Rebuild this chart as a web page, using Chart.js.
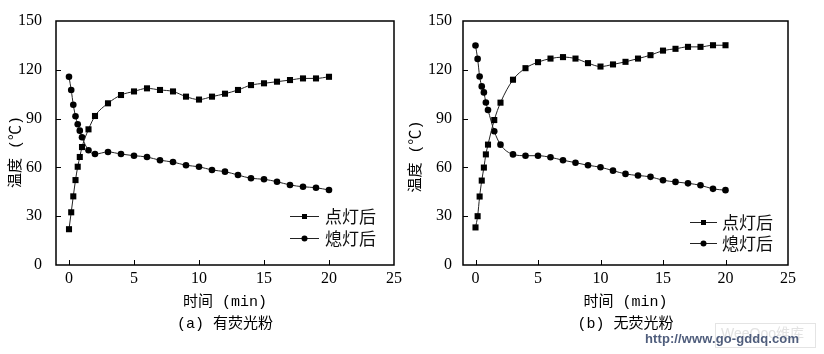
<!DOCTYPE html>
<html><head><meta charset="utf-8">
<script src="https://cdn.jsdelivr.net/npm/chart.js@4/dist/chart.umd.min.js"></script>
<style>
html,body{margin:0;padding:0;background:#fff;}
#wrap{position:relative;width:824px;height:354px;overflow:hidden;background:#fff;}
#cA{position:absolute;left:0;top:0;}
#cB{position:absolute;left:405px;top:0;}
#wmbox{position:absolute;left:715px;top:323px;width:101px;height:25px;border:1px solid #e4e4e4;box-sizing:border-box;
  color:#e2e2e2;font:14px 'Liberation Sans','Noto Sans CJK SC';line-height:18px;padding-left:5px;}
#wmurl{position:absolute;left:645px;top:331px;color:#4f5d7c;font:bold 13px 'Liberation Sans',Arial;letter-spacing:0.1px;}
</style></head><body>
<div id="wrap">
<canvas id="cA" width="405" height="354"></canvas>
<canvas id="cB" width="419" height="354"></canvas>
<div id="wmbox">WeeQoo维库</div>
<div id="wmurl">http://www.go-gddq.com</div>
</div>
<script>
// ---- data ----
const timeMin = [0, 0.17, 0.33, 0.5, 0.67, 0.83, 1, 1.5, 2, 3, 4, 5, 6, 7, 8, 9, 10, 11, 12, 13, 14, 15, 16, 17, 18, 19, 20];
const seriesNames = ['点灯后', '熄灯后'];
// (a) 有荧光粉
const onWithPhosphor  = [22, 32.4, 42.2, 52.2, 60.4, 66.4, 72.5, 83.4, 91.6, 99.4, 104.5, 106.7, 108.6, 107.6, 106.7, 103.5, 101.7, 103.5, 105.3, 107.6, 110.6, 111.7, 112.7, 113.7, 114.7, 114.7, 115.7];
const offWithPhosphor = [115.7, 107.6, 98.5, 91.4, 86.5, 82.6, 78.5, 70.5, 68.2, 69.5, 68.2, 67.2, 66.4, 64.4, 63.3, 61.3, 60.4, 58.4, 57.4, 55.3, 53.3, 52.7, 51.2, 49.2, 48.1, 47.5, 46.1];
// (b) 无荧光粉
const onNoPhosphor    = [23.1, 30, 42.1, 51.9, 59.9, 68, 74, 89.1, 99.8, 113.9, 121, 124.7, 126.9, 127.8, 126.9, 124.1, 122, 123.3, 124.9, 126.9, 129, 131.8, 132.9, 134.1, 134.1, 135.1, 135.1];
const offNoPhosphor   = [134.9, 126.7, 115.9, 109.8, 106.1, 99.9, 95.3, 82.2, 74, 68, 67.2, 67.2, 66.2, 64.4, 62.9, 61.3, 60.1, 58, 56, 55, 54.2, 52.1, 51.1, 50.2, 49, 46.8, 46];
const xTickValues = [0, 5, 10, 15, 20, 25];
const yTickValues = [0, 30, 60, 90, 120, 150];
const captions = ['(a) 有荧光粉', '(b) 无荧光粉'];
const xTitle = '时间 (min)';
const yTitle = '温度 (℃)';

// ---- plugins ----
const framePlugin = {
  id: 'frame',
  afterDraw(chart) {
    const {ctx, chartArea: a, scales: {x, y}} = chart;
    ctx.save();
    ctx.strokeStyle = '#000';
    ctx.lineWidth = 1.5;
    ctx.strokeRect(a.left, a.top, a.right - a.left, a.bottom - a.top);
    ctx.lineWidth = 1;
    ctx.beginPath();
    x.ticks.forEach(t => {
      const px = Math.round(x.getPixelForValue(t.value)) + 0.5;
      if (px < a.right - 3) { ctx.moveTo(px, a.bottom); ctx.lineTo(px, a.bottom - 5); }
    });
    y.ticks.forEach(t => {
      const py = Math.round(y.getPixelForValue(t.value)) + 0.5;
      if (py > a.top + 3 && py < a.bottom - 3) { ctx.moveTo(a.left, py); ctx.lineTo(a.left + 5, py); }
    });
    ctx.stroke();
    ctx.restore();
  }
};

const lineLegend = {
  id: 'lineLegend',
  afterDraw(chart, args, o) {
    const ctx = chart.ctx;
    ctx.save();
    chart.data.datasets.forEach((ds, i) => {
      const yy = o.rows[i];
      ctx.strokeStyle = ds.borderColor;
      ctx.lineWidth = 1;
      ctx.beginPath();
      ctx.moveTo(o.x1, yy + 0.5); ctx.lineTo(o.x2, yy + 0.5);
      ctx.stroke();
      const cx = (o.x1 + o.x2) / 2;
      ctx.fillStyle = '#000';
      if (ds.pointStyle === 'rect') {
        ctx.fillRect(cx - 2.5, yy - 2, 5, 5);
      } else {
        ctx.beginPath(); ctx.arc(cx, yy + 0.5, 3, 0, Math.PI * 2); ctx.fill();
      }
      ctx.fillStyle = '#111';
      ctx.font = o.font;
      ctx.textBaseline = 'middle';
      ctx.textAlign = 'left';
      ctx.fillText(ds.label, o.xText, yy + 1);
    });
    ctx.restore();
  }
};

const cjkMono = "'Liberation Mono', 'Noto Sans CJK SC', monospace";

function makeChart(canvas, onData, offData, caption, cfg) {
  const mk = (label, vals, style, r) => ({
    label,
    data: timeMin.map((t, i) => ({x: t, y: vals[i]})),
    pointStyle: style,
    pointRadius: r,
    pointBackgroundColor: '#000',
    pointBorderColor: '#000',
    pointBorderWidth: 0,
    borderColor: '#222',
    borderWidth: 1,
    cubicInterpolationMode: 'monotone',
    fill: false
  });
  return new Chart(canvas, {
    type: 'line',
    data: {
      datasets: [
        mk(seriesNames[0], onData, 'rect', 4.3),
        mk(seriesNames[1], offData, 'circle', 3.3)
      ]
    },
    options: {
      responsive: false,
      animation: false,
      devicePixelRatio: 1,
      layout: {padding: {left: 0, right: cfg.padRight, top: 21, bottom: 21}},
      plugins: {
        legend: {display: false},
        tooltip: {enabled: false},
        title: {
          display: true, position: 'bottom', text: caption, fullSize: false,
          padding: 0, color: '#000',
          font: {family: cjkMono, size: 15, weight: 'normal', lineHeight: 1.2}
        },
        lineLegend: cfg.legend
      },
      scales: {
        x: {
          type: 'linear', min: -1, max: 25,
          afterBuildTicks: s => { s.ticks = xTickValues.map(v => ({value: v})); },
          afterFit: s => { s.height = 50; },
          grid: {display: false}, border: {display: false},
          ticks: {padding: -4, color: '#000', maxRotation: 0, font: {family: "'Liberation Serif'", size: 16}},
          title: {display: true, text: xTitle, color: '#000', padding: {top: 0, bottom: 4},
                  font: {family: cjkMono, size: 15, lineHeight: 1.2}}
        },
        y: {
          type: 'linear', min: 0, max: 150,
          afterBuildTicks: s => { s.ticks = yTickValues.map(v => ({value: v})); },
          afterFit: s => { s.width = cfg.yWidth; },
          grid: {display: false}, border: {display: false},
          ticks: {padding: cfg.yTickPad, color: '#000', font: {family: "'Liberation Serif'", size: 16}},
          title: {display: true, text: yTitle + cfg.yTitleTail, color: '#000', padding: {top: cfg.yTitlePad, bottom: 0},
                  font: {family: cjkMono, size: 15, lineHeight: 1.2}}
        }
      }
    },
    plugins: [framePlugin, lineLegend]
  });
}

makeChart(document.getElementById('cA'), onWithPhosphor, offWithPhosphor, captions[0], {
  padRight: 11, yWidth: 56, yTickPad: 6, yTitlePad: 7, yTitleTail: '  ',
  legend: {x1: 290, x2: 319, xText: 325, rows: [216, 238], font: "17px 'Noto Sans CJK SC'"}
});
makeChart(document.getElementById('cB'), onNoPhosphor, offNoPhosphor, captions[1], {
  padRight: 36, yWidth: 58, yTickPad: 3, yTitlePad: 2, yTitleTail: '   ',
  legend: {x1: 285, x2: 312, xText: 317, rows: [222, 243], font: "17px 'Noto Sans CJK SC'"}
});
</script>
</body></html>
